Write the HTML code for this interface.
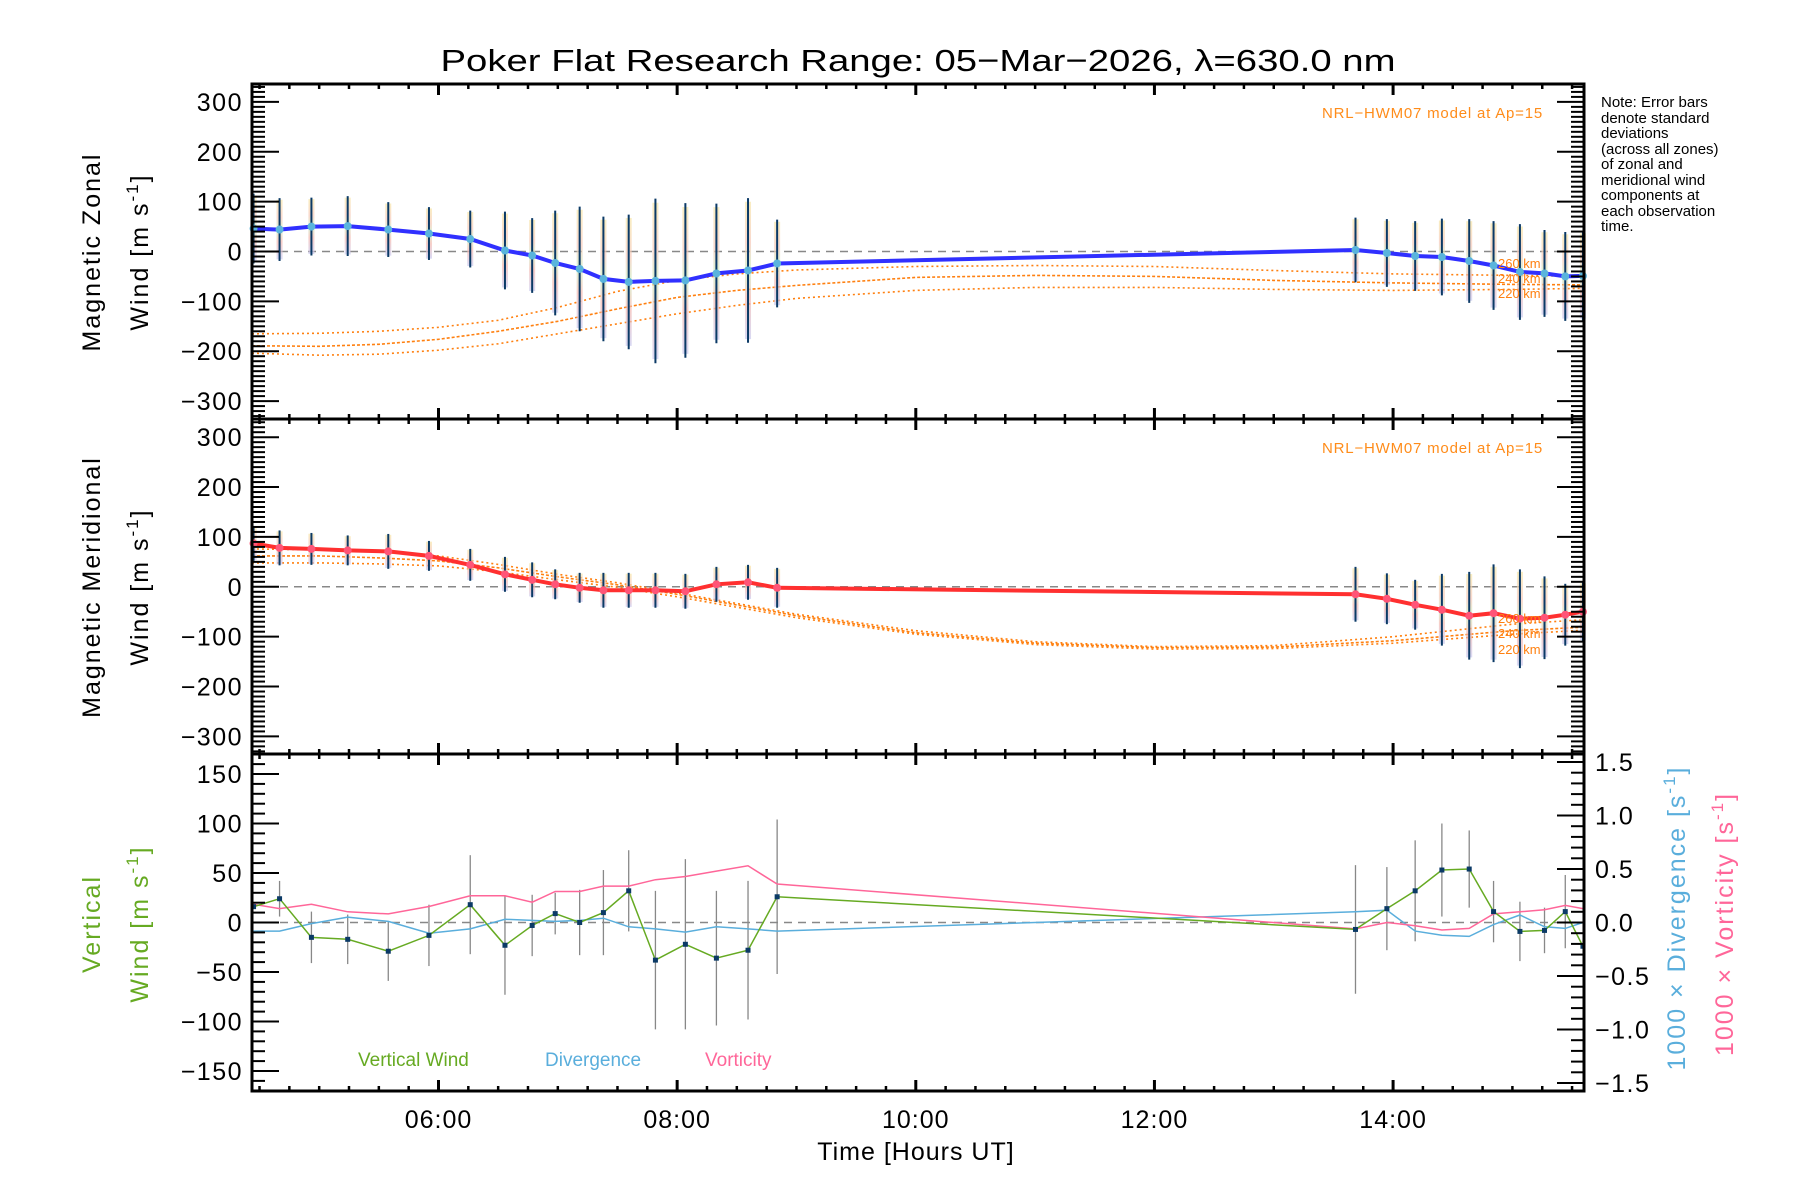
<!DOCTYPE html>
<html><head><meta charset="utf-8"><title>Poker Flat winds</title>
<style>
html,body{margin:0;padding:0;background:#fff;}
svg{display:block;font-family:"Liberation Sans",sans-serif;}
</style></head>
<body>
<svg id="chart" width="1800" height="1200" viewBox="0 0 1800 1200" xmlns="http://www.w3.org/2000/svg">
<defs>
<linearGradient id="pastel" x1="0" y1="0" x2="0" y2="1">
<stop offset="0" stop-color="#f7e6a8"/><stop offset="0.3" stop-color="#f6c8b8"/><stop offset="0.5" stop-color="#cdeec0"/><stop offset="0.7" stop-color="#f4b8b0"/><stop offset="1" stop-color="#c8c8ee"/>
</linearGradient>
</defs>
<text x="918" y="71" font-size="31" text-anchor="middle" textLength="955" lengthAdjust="spacingAndGlyphs">Poker Flat Research Range: 05−Mar−2026, λ=630.0 nm</text>
<g id="notes" font-size="15" fill="#000">
<text x="1601" y="107">Note: Error bars</text>
<text x="1601" y="123">denote standard</text>
<text x="1601" y="138">deviations</text>
<text x="1601" y="154">(across all zones)</text>
<text x="1601" y="169">of zonal and</text>
<text x="1601" y="185">meridional wind</text>
<text x="1601" y="200">components at</text>
<text x="1601" y="216">each observation</text>
<text x="1601" y="231">time.</text>
</g>
<g id="g1"></g>
<g id="g2"></g>
<g id="g3"></g>
<g id="axes"></g>
<g id="labels">
<text transform="translate(100,252) rotate(-90)" font-size="25" text-anchor="middle" letter-spacing="2">Magnetic Zonal</text>
<text transform="translate(148,252) rotate(-90)" font-size="25" text-anchor="middle" letter-spacing="2">Wind [m s<tspan dy="-10" font-size="17">-1</tspan><tspan dy="10">]</tspan></text>
<text transform="translate(100,587) rotate(-90)" font-size="25" text-anchor="middle" letter-spacing="2">Magnetic Meridional</text>
<text transform="translate(148,587) rotate(-90)" font-size="25" text-anchor="middle" letter-spacing="2">Wind [m s<tspan dy="-10" font-size="17">-1</tspan><tspan dy="10">]</tspan></text>
<text transform="translate(100,924) rotate(-90)" font-size="25" text-anchor="middle" letter-spacing="2" fill="#66aa22">Vertical</text>
<text transform="translate(148,924) rotate(-90)" font-size="25" text-anchor="middle" letter-spacing="2" fill="#66aa22">Wind [m s<tspan dy="-10" font-size="17">-1</tspan><tspan dy="10">]</tspan></text>
<text transform="translate(1685,918) rotate(-90)" font-size="25" text-anchor="middle" letter-spacing="2" fill="#5aaedc">1000 × Divergence [s<tspan dy="-10" font-size="17">-1</tspan><tspan dy="10">]</tspan></text>
<text transform="translate(1733,924) rotate(-90)" font-size="25" text-anchor="middle" letter-spacing="2" fill="#ff6699">1000 × Vorticity [s<tspan dy="-10" font-size="17">-1</tspan><tspan dy="10">]</tspan></text>
<text x="916" y="1160" font-size="25" text-anchor="middle" letter-spacing="1">Time [Hours UT]</text>
<text x="1543" y="118" font-size="15" text-anchor="end" fill="#ff8c1a" letter-spacing="0.8">NRL−HWM07 model at Ap=15</text>
<text x="1543" y="453" font-size="15" text-anchor="end" fill="#ff8c1a" letter-spacing="0.8">NRL−HWM07 model at Ap=15</text>
<text x="358" y="1066" font-size="19" fill="#66aa22">Vertical Wind</text>
<text x="545" y="1066" font-size="19" fill="#5aaedc">Divergence</text>
<text x="705" y="1066" font-size="19" fill="#ff6699">Vorticity</text>
</g>
</svg>
<script>
// ---- data ----
const obsTimes = [4.45,4.668,4.935,5.239,5.579,5.92,6.266,6.557,6.785,6.978,7.183,7.382,7.594,7.818,8.069,8.329,8.594,8.838,13.685,13.948,14.185,14.409,14.638,14.842,15.063,15.269,15.443,15.591];
const zonalWind = [46,44,50,51,44,36,25,2,-8,-23,-35,-55,-61,-59,-58,-44,-38,-24,3,-3,-9,-11,-19,-28,-41,-44,-50,-49];
const zonalErr = [70,63,58,60,55,53,57,78,75,105,125,125,135,165,155,140,145,88,65,68,70,77,84,89,96,87,89,90];
const meridWind = [87,78,76,73,71,62,44,25,14,5,-2,-7,-7,-7,-9,5,9,-2,-15,-24,-36,-46,-58,-53,-64,-62,-56,-50];
const meridErr = [35,35,32,30,35,30,32,35,35,30,30,35,35,35,35,35,35,40,55,51,50,72,88,98,99,83,62,60];
const vertWind = [16,24,-15,-17,-29,-13,18,-23,-3,9,0,10,32,-38,-22,-36,-28,26,-7,14,32,53,54,11,-9,-8,11,-24];
const vertErr = [0,18,26,25,30,31,50,50,31,21,33,43,41,70,86,68,70,78,65,42,51,47,39,31,30,23,37,0];
const divergence = [-0.08,-0.08,-0.01,0.05,0.01,-0.1,-0.06,0.03,0.02,0.01,0.02,0.04,-0.04,-0.06,-0.09,-0.04,-0.06,-0.08,0.1,0.115,-0.08,-0.12,-0.13,-0.02,0.07,-0.04,-0.055,0];
const vorticity = [0.17,0.13,0.17,0.1,0.08,0.15,0.25,0.25,0.19,0.29,0.29,0.34,0.34,0.4,0.43,0.48,0.53,0.36,-0.06,0,-0.03,-0.07,-0.055,0.08,0.1,0.12,0.16,0.13];
const zModelTimes = [4.437,5,5.5,6,6.5,7,7.5,8,8.5,9,10,11,12,13,14,15,15.6];
const zonal260 = [-165,-164,-160,-152,-138,-112,-80,-58,-45,-37,-30,-28,-30,-38,-45,-48,-50];
const zonal240 = [-189,-190,-186,-176,-160,-140,-115,-92,-78,-68,-52,-48,-50,-58,-63,-66,-67];
const zonal220 = [-204,-208,-206,-198,-185,-165,-145,-125,-108,-94,-78,-72,-72,-76,-78,-76,-74];
const mModelTimes = [4.437,5,5.5,6,6.5,7,7.5,8,9,10,11,12,13,14,15,15.6];
const merid260 = [76,74,70,62,45,25,8,-12,-55,-88,-110,-120,-118,-100,-75,-66];
const merid240 = [62,62,58,52,38,20,4,-15,-58,-92,-113,-122,-121,-108,-88,-81];
const merid220 = [48,48,46,42,30,14,-1,-20,-62,-95,-116,-125,-124,-113,-95,-87];
const altLabels = ["260 km","240 km","220 km"];
const zonalAltLabelVals = [-23,-53,-83];
const meridAltLabelVals = [-63,-93,-125];
const xTickHours = [6,8,10,12,14];
const xTickLabels = ["06:00","08:00","10:00","12:00","14:00"];
const windTicks = [-300,-200,-100,0,100,200,300];
const vertTicks = [-150,-100,-50,0,50,100,150];
const ratioTicks = [-1.5,-1.0,-0.5,0.0,0.5,1.0,1.5];

// ---- geometry ----
const L=252, R=1584, T0=4.437, T1=15.6;
const P=[{top:84,bot:419},{top:419,bot:754},{top:754,bot:1091}];
const NS="http://www.w3.org/2000/svg";
const x=h=>L+(h-T0)*(R-L)/(T1-T0);
const y1=v=>251.5-v*0.4987;
const y2=v=>586.8-v*0.4987;
const y3=v=>922.5-v*0.99;
const y3r=v=>922.5-v*107;
function mk(tag,attrs,parent){const e=document.createElementNS(NS,tag);for(const k in attrs)e.setAttribute(k,attrs[k]);parent.appendChild(e);return e;}
const g1=document.getElementById('g1'),g2=document.getElementById('g2'),g3=document.getElementById('g3'),ax=document.getElementById('axes');
function path(ts,vs,yf){return ts.map((t,i)=>(i?'L':'M')+x(t).toFixed(1)+','+yf(vs[i]).toFixed(1)).join(' ');}

// zero lines
[[g1,y1(0)],[g2,y2(0)],[g3,y3(0)]].forEach(([g,yy])=>{
  const l=mk('line',{x1:L,x2:R,y1:yy,y2:yy,stroke:'#888','stroke-width':1.5,'stroke-dasharray':'8,6'},g);
  
  
});

// wind panels
function windPanel(g,yf,vals,errs,models,mt,lineColor,dotColor,name,labelVals){
  const dash=['2,3','3,2','2,3'];
  models.forEach((m,k)=>{
    const p=mk('path',{d:path(mt,m,yf),fill:'none',stroke:'#ff8010','stroke-width':1.6,'stroke-dasharray':dash[k]},g);
    
    
  });
  obsTimes.forEach((t,i)=>{
    const b=mk('rect',{x:x(t)-3,y:yf(vals[i]+errs[i]*0.95),width:6,height:Math.abs(yf(vals[i]-errs[i]*0.95)-yf(vals[i]+errs[i]*0.95)),fill:'url(#pastel)',opacity:0.7},g);
    
    
    const e=mk('line',{x1:x(t),x2:x(t),y1:yf(vals[i]-errs[i]),y2:yf(vals[i]+errs[i]),stroke:'#0b3a66','stroke-width':2},g);
    
    
  });
  const ln=mk('path',{d:path(obsTimes,vals,yf),fill:'none',stroke:lineColor,'stroke-width':4},g);
  
  
  obsTimes.forEach((t,i)=>{
    const c=mk('circle',{cx:x(t),cy:yf(vals[i]),r:4,fill:dotColor},g);
    
    
  });
  altLabels.forEach((s,k)=>{
    const tx=mk('text',{x:1498,y:yf(labelVals[k])+5,'font-size':13,fill:'#ff8010'},g);
    tx.textContent=s;
    
    
  });
}
windPanel(g1,y1,zonalWind,zonalErr,[zonal260,zonal240,zonal220],zModelTimes,'#3030ff','#5ab4dc','zonal',zonalAltLabelVals);
windPanel(g2,y2,meridWind,meridErr,[merid260,merid240,merid220],mModelTimes,'#ff3030','#ff5577','meridional',meridAltLabelVals);

// vertical panel
obsTimes.forEach((t,i)=>{
  if(!vertErr[i])return;
  const e=mk('line',{x1:x(t),x2:x(t),y1:y3(vertWind[i]-vertErr[i]),y2:y3(vertWind[i]+vertErr[i]),stroke:'#888','stroke-width':1.3},g3);
  
  
});
const dv=mk('path',{d:path(obsTimes,divergence,y3r),fill:'none',stroke:'#5aaedc','stroke-width':1.5},g3);


const vo=mk('path',{d:path(obsTimes,vorticity,y3r),fill:'none',stroke:'#ff6699','stroke-width':1.5},g3);


const vw=mk('path',{d:path(obsTimes,vertWind,y3),fill:'none',stroke:'#66aa22','stroke-width':1.5},g3);


obsTimes.forEach((t,i)=>{
  const s=mk('rect',{x:x(t)-2.5,y:y3(vertWind[i])-2.5,width:5,height:5,fill:'#0b3a66'},g3);
  
  
});

// axes frames & ticks
P.forEach((p,k)=>{
  const r=mk('rect',{x:L,y:p.top,width:R-L,height:p.bot-p.top,fill:'none',stroke:'#000','stroke-width':3},ax);
  
  
  for(let h=4.5;h<=15.6;h+=0.25){
    const major=Math.abs(h-Math.round(h))<1e-6 && Math.round(h)%2===0;
    const len=major?11:5;
    mk('line',{x1:x(h),x2:x(h),y1:p.bot,y2:p.bot-len,stroke:'#000','stroke-width':major?3:2.5},ax);
    mk('line',{x1:x(h),x2:x(h),y1:p.top,y2:p.top+len,stroke:'#000','stroke-width':major?3:2.5},ax);
  }
});
function yTicks(yf,lo,hi,minor,majorList,p,rightMirror){
  for(let v=lo;v<=hi+1e-9;v+=minor){
    const yy=yf(v); if(yy<p.top+1||yy>p.bot-1)continue;
    const isMaj=majorList.some(m=>Math.abs(m-v)<1e-6);
    const len=isMaj?27:13;
    mk('line',{x1:L,x2:L+len,y1:yy,y2:yy,stroke:'#000','stroke-width':2},ax);
    if(rightMirror)mk('line',{x1:R,x2:R-len,y1:yy,y2:yy,stroke:'#000','stroke-width':2},ax);
  }
  majorList.forEach(v=>{
    const t=mk('text',{x:243,y:yf(v)+9,'font-size':25,'text-anchor':'end','letter-spacing':1.5},ax);
    t.textContent=(v<0?'−':'')+Math.abs(v);
    
    
  });
}
yTicks(y1,-330,330,10,windTicks,P[0],true);
yTicks(y2,-330,330,10,windTicks,P[1],true);
yTicks(y3,-160,160,10,vertTicks,P[2],false);
for(let v=-1.5;v<=1.51;v+=0.1){
  const yy=y3r(v); if(yy<P[2].top+1||yy>P[2].bot)continue;
  const isMaj=Math.abs(v*2-Math.round(v*2))<1e-6;
  mk('line',{x1:R,x2:R-(isMaj?27:13),y1:yy,y2:yy,stroke:'#000','stroke-width':2},ax);
}
ratioTicks.forEach(v=>{
  const t=mk('text',{x:1595,y:y3r(v)+9,'font-size':25,'letter-spacing':1.5},ax);
  t.textContent=(v<0?'−':'')+Math.abs(v).toFixed(1);
  
  
});
xTickHours.forEach((h,i)=>{
  const t=mk('text',{x:x(h),y:1128,'font-size':25,'text-anchor':'middle','letter-spacing':1},ax);
  t.textContent=xTickLabels[i];
  
  
});
</script>
</body></html>
